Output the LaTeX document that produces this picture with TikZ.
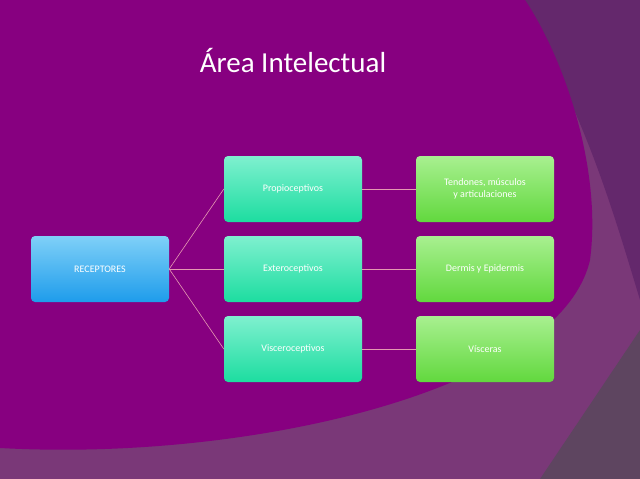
\documentclass[tikz,border=0pt]{standalone}
\usepackage{fontspec}
\setmainfont{Carlito}
\begin{document}
\begin{tikzpicture}[x=1pt,y=-1pt,
  box/.style={rounded corners=4pt,minimum width=138pt,minimum height=66pt,align=center,text=white,font=\fontsize{10}{12}\selectfont,draw=none},
  bluebox/.style={box,top color=bluetop,bottom color=bluebot},
  tealbox/.style={box,top color=tealtop,bottom color=tealbot},
  greenbox/.style={box,top color=greentop,bottom color=greenbot},
  conn/.style={draw=purple!40!white,line width=0.6pt}]
\definecolor{bgband}{HTML}{7A3878}
\definecolor{bgdark}{HTML}{64286C}
\definecolor{bggray}{HTML}{5E4560}
\definecolor{bgmag}{HTML}{870080}
\definecolor{bluetop}{HTML}{7FD0F8}
\definecolor{bluebot}{HTML}{1E9CEB}
\definecolor{tealtop}{HTML}{7FF0CF}
\definecolor{tealbot}{HTML}{1CDDA0}
\definecolor{greentop}{HTML}{A8F090}
\definecolor{greenbot}{HTML}{62D83E}
\useasboundingbox (0,0) rectangle (640,479);
\fill[bgband] (0,0) rectangle (640,479);
\fill[bgdark] (515,0) .. controls (580,100) and (610,200) .. (640,300) -- (640,0) -- cycle;
\fill[bggray] (640,330) -- (540,479) -- (640,479) -- cycle;
\fill[bgmag] (0,0) -- (0,448) .. controls (250,462) and (560,390) .. (590,260) .. controls (602,170) and (565,60) .. (525,0) -- cycle;
\node[text=white,font=\fontsize{29}{34}\selectfont] (title) at (293,60) {Área Intelectual};
\node[bluebox] (rec) at (100,269) {RECEPTORES};
\node[tealbox] (pro) at (293,189) {Propioceptivos};
\node[tealbox] (ext) at (293,269) {Exteroceptivos};
\node[tealbox] (vis) at (293,349) {Visceroceptivos};
\node[greenbox] (ten) at (485,189) {Tendones, músculos\\y articulaciones};
\node[greenbox] (der) at (485,269) {Dermis y Epidermis};
\node[greenbox] (vsc) at (485,349) {Vísceras};
\draw[conn] (rec.east) -- (pro.west);
\draw[conn] (rec.east) -- (ext.west);
\draw[conn] (rec.east) -- (vis.west);
\draw[conn] (pro.east) -- (ten.west);
\draw[conn] (ext.east) -- (der.west);
\draw[conn] (vis.east) -- (vsc.west);
\end{tikzpicture}
\end{document}
